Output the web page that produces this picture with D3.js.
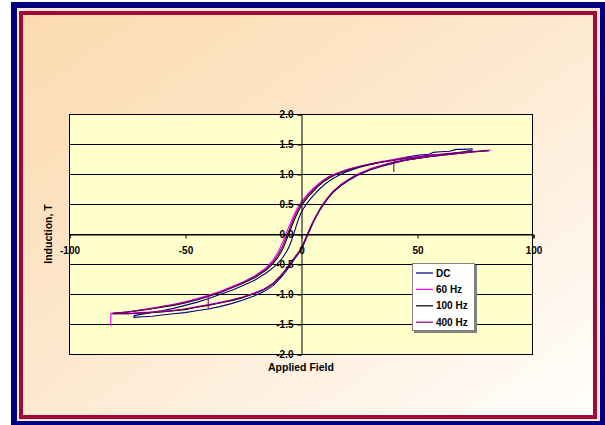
<!DOCTYPE html>
<html>
<head>
<meta charset="utf-8">
<script src="https://cdn.jsdelivr.net/npm/d3@7"></script>
<style>
  html, body { margin: 0; padding: 0; background: #ffffff; }
  svg { display: block; font-family: "Liberation Sans", Arial, sans-serif; }
</style>
</head>
<body>
<svg id="chart" width="605" height="425"></svg>
<script>
// ---------------- data (Applied Field, Induction T) ----------------
const seriesNames = ["DC", "60 Hz", "100 Hz", "400 Hz"];
const seriesColors = ["#000080", "#FF00FF", "#000000", "#800080"];
const xTickValues = [-100, -50, 0, 50, 100];
const xTickLabels = ["-100", "-50", "0", "50", "100"];
const yTickValues = [-2.0, -1.5, -1.0, -0.5, 0.0, 0.5, 1.0, 1.5, 2.0];
const yTickLabels = ["-2.0", "-1.5", "-1.0", "-0.5", "0.0", "0.5", "1.0", "1.5", "2.0"];
const xTitle = "Applied Field";
const yTitle = "Induction, T";

const dcLoop = [
  [74,1.42],[70,1.41],[67,1.41],[64,1.38],[60,1.37],[57,1.36],[55,1.33],[50,1.31],[45,1.28],[40,1.24],
  [35,1.20],[30,1.16],[25,1.11],[20,1.04],[17,0.99],[14,0.93],[12,0.88],[10,0.82],[8,0.75],[6,0.67],
  [4,0.58],[2,0.48],[1,0.42],[0,0.35],[-1,0.26],[-2,0.14],[-3,0.02],[-4,-0.10],[-5,-0.20],[-6,-0.28],
  [-8,-0.40],[-10,-0.49],[-12,-0.56],[-15,-0.65],[-20,-0.77],[-25,-0.86],[-30,-0.94],[-35,-1.01],
  [-40,-1.08],[-45,-1.14],[-50,-1.19],[-55,-1.24],[-60,-1.28],[-65,-1.31],[-72,-1.36],
  [-72,-1.39],[-68,-1.38],[-64,-1.37],[-60,-1.35],[-55,-1.33],[-50,-1.31],[-45,-1.28],[-40,-1.25],
  [-35,-1.21],[-30,-1.16],[-25,-1.10],[-20,-1.03],[-16,-0.96],[-12,-0.86],[-9,-0.74],[-7,-0.65],
  [-5,-0.54],[-3,-0.43],[-1,-0.32],[0,-0.26],[1,-0.19],[2,-0.10],[3,-0.01],[4,0.08],[5,0.17],[6,0.25],
  [8,0.39],[10,0.51],[12,0.61],[14,0.70],[17,0.80],[20,0.88],[24,0.97],[30,1.07],[35,1.13],[40,1.18],
  [45,1.23],[50,1.26],[55,1.29],[60,1.32],[65,1.34],[70,1.37],[74,1.40]
];

const hz60Loop = [
  [82,1.40],[75,1.38],[70,1.36],[65,1.35],[60,1.33],[55,1.31],[50,1.29],[45,1.27],[40,1.24],[35,1.21],
  [30,1.17],[25,1.13],[20,1.08],[15,1.01],[12,0.96],[10,0.91],[7,0.82],[5,0.75],[3,0.67],[1,0.58],
  [0,0.53],[-1,0.47],[-2,0.40],[-3,0.32],[-4,0.23],[-5,0.14],[-6,0.05],[-7,-0.05],[-8,-0.15],
  [-10,-0.31],[-12,-0.43],[-15,-0.56],[-20,-0.70],[-25,-0.80],[-30,-0.88],[-35,-0.96],[-40,-1.02],
  [-45,-1.08],[-50,-1.13],[-55,-1.17],[-60,-1.21],[-65,-1.24],[-70,-1.27],[-75,-1.30],[-82,-1.32],
  [-82,-1.53],[-82,-1.33],
  [-75,-1.32],[-70,-1.31],[-65,-1.30],[-60,-1.29],[-55,-1.27],[-50,-1.25],[-45,-1.21],[-40,-1.18],
  [-35,-1.14],[-30,-1.10],[-25,-1.05],[-20,-0.98],[-16,-0.92],[-12,-0.82],[-9,-0.70],[-7,-0.61],
  [-5,-0.51],[-3,-0.40],[-1,-0.30],[0,-0.24],[1,-0.16],[2,-0.07],[3,0.02],[4,0.11],[5,0.19],[6,0.27],
  [8,0.41],[10,0.53],[12,0.63],[14,0.72],[17,0.82],[20,0.90],[24,0.99],[30,1.09],[35,1.15],[40,1.20],
  [45,1.24],[50,1.27],[55,1.30],[60,1.32],[65,1.34],[70,1.36],[75,1.38],[82,1.40]
];

const hz100Loop = [
  [81,1.39],[75,1.37],[70,1.36],[65,1.34],[60,1.32],[55,1.30],[50,1.28],[45,1.26],[40,1.23],[35,1.20],
  [30,1.16],[25,1.12],[20,1.06],[15,0.99],[12,0.93],[10,0.88],[7,0.78],[5,0.70],[3,0.62],[1,0.52],
  [0,0.46],[-1,0.39],[-2,0.31],[-3,0.22],[-4,0.13],[-5,0.03],[-6,-0.07],[-7,-0.17],[-8,-0.26],
  [-10,-0.39],[-12,-0.49],[-15,-0.60],[-20,-0.73],[-25,-0.82],[-30,-0.90],[-35,-0.98],[-40,-1.04],
  [-45,-1.10],[-50,-1.15],[-55,-1.19],[-60,-1.22],[-65,-1.25],[-70,-1.28],[-75,-1.30],[-81,-1.32],
  [-81,-1.33],[-75,-1.33],[-70,-1.32],[-65,-1.31],[-60,-1.30],[-55,-1.28],[-50,-1.26],[-45,-1.22],
  [-40,-1.19],[-35,-1.15],[-30,-1.11],[-25,-1.06],[-20,-0.99],[-16,-0.93],[-12,-0.83],[-9,-0.71],
  [-7,-0.62],[-5,-0.52],[-3,-0.41],[-1,-0.31],[0,-0.25],[1,-0.17],[2,-0.08],[3,0.01],[4,0.10],
  [5,0.18],[6,0.26],[8,0.40],[10,0.52],[12,0.62],[14,0.71],[17,0.81],[20,0.89],[24,0.98],[30,1.08],
  [35,1.14],[40,1.19],[45,1.23],[50,1.26],[55,1.29],[60,1.31],[65,1.33],[70,1.35],[75,1.37],[81,1.39]
];

const hz400Loop = [
  [81,1.39],[75,1.37],[70,1.36],[65,1.34],[60,1.33],[55,1.31],[50,1.28],[45,1.26],[40,1.23],
  [40,1.04],[40,1.23],[35,1.20],[30,1.17],[25,1.12],[20,1.07],[15,1.00],[12,0.95],[10,0.90],[7,0.80],
  [5,0.73],[3,0.65],[1,0.55],[0,0.50],[-1,0.43],[-2,0.36],[-3,0.27],[-4,0.18],[-5,0.08],[-6,-0.01],
  [-7,-0.11],[-8,-0.21],[-10,-0.35],[-12,-0.46],[-15,-0.58],[-20,-0.71],[-25,-0.81],[-30,-0.89],
  [-35,-0.97],[-40,-1.03],[-40,-1.24],[-40,-1.04],[-45,-1.09],[-50,-1.14],[-55,-1.18],[-60,-1.21],
  [-65,-1.25],[-70,-1.27],[-75,-1.30],[-81,-1.32],
  [-81,-1.33],[-75,-1.33],[-70,-1.32],[-65,-1.31],[-60,-1.29],[-55,-1.28],[-50,-1.25],[-45,-1.22],
  [-40,-1.18],[-35,-1.15],[-30,-1.10],[-25,-1.05],[-20,-0.99],[-16,-0.92],[-12,-0.83],[-9,-0.71],
  [-7,-0.62],[-5,-0.52],[-3,-0.41],[-1,-0.31],[0,-0.25],[1,-0.17],[2,-0.08],[3,0.01],[4,0.10],
  [5,0.18],[6,0.26],[8,0.40],[10,0.52],[12,0.62],[14,0.71],[17,0.81],[20,0.89],[24,0.98],[30,1.08],
  [35,1.14],[40,1.19],[45,1.23],[50,1.26],[55,1.29],[60,1.31],[65,1.33],[70,1.35],[75,1.37],[81,1.39]
];

const seriesData = [dcLoop, hz60Loop, hz100Loop, hz400Loop];

// ---------------- drawing ----------------
const FONT = "'Liberation Sans', Arial, sans-serif";
const svg = d3.select("#chart");
const defs = svg.append("defs");

const grad = defs.append("linearGradient")
  .attr("id", "bgGrad").attr("x1", "0").attr("y1", "0").attr("x2", "1").attr("y2", "1");
grad.append("stop").attr("offset", "0").attr("stop-color", "#FCDAAE");
grad.append("stop").attr("offset", "0.45").attr("stop-color", "#FDE7CC");
grad.append("stop").attr("offset", "1").attr("stop-color", "#FFFEFC");

const pat = defs.append("pattern").attr("id", "stripes")
  .attr("patternUnits", "userSpaceOnUse").attr("width", 7).attr("height", 7)
  .attr("patternTransform", "rotate(-40)");
pat.append("line").attr("x1", 0).attr("y1", 0).attr("x2", 7).attr("y2", 0)
  .attr("stroke", "#ffffff").attr("stroke-opacity", 0.18).attr("stroke-width", 1);

// frame
svg.append("rect").attr("x", 11).attr("y", 2).attr("width", 594).attr("height", 423).attr("fill", "#000080");
svg.append("rect").attr("x", 17).attr("y", 8).attr("width", 583).attr("height", 413).attr("fill", "#F6E7D6");
svg.append("rect").attr("x", 19).attr("y", 11).attr("width", 578).attr("height", 408).attr("fill", "#A00A3A");
svg.append("rect").attr("x", 23).attr("y", 15).attr("width", 570).attr("height", 400).attr("fill", "url(#bgGrad)");
svg.append("rect").attr("x", 23).attr("y", 15).attr("width", 570).attr("height", 400).attr("fill", "url(#stripes)");

// plot area
const plot = { left: 69, top: 114, right: 533, bottom: 354 };
const x = d3.scaleLinear().domain([-100, 100]).range([plot.left, plot.right]);
const y = d3.scaleLinear().domain([-2, 2]).range([plot.bottom, plot.top]);

svg.append("rect")
  .attr("x", plot.left).attr("y", plot.top)
  .attr("width", plot.right - plot.left).attr("height", plot.bottom - plot.top)
  .attr("fill", "#FFFFCC");

defs.append("clipPath").attr("id", "plotClip").append("rect")
  .attr("x", plot.left).attr("y", plot.top)
  .attr("width", plot.right - plot.left).attr("height", plot.bottom - plot.top);

// horizontal gridlines
svg.append("g").selectAll("line").data(yTickValues).join("line")
  .attr("x1", plot.left).attr("x2", plot.right)
  .attr("y1", d => Math.round(y(d)) + 0.5).attr("y2", d => Math.round(y(d)) + 0.5)
  .attr("stroke", "#000").attr("stroke-width", 1);

// curves
const line = d3.line().x(d => x(d[0])).y(d => y(d[1]));
const curves = svg.append("g").attr("clip-path", "url(#plotClip)");
seriesData.forEach((data, i) => {
  curves.append("path").datum(data)
    .attr("d", line)
    .attr("fill", "none")
    .attr("stroke", seriesColors[i])
    .attr("stroke-width", 1.1)
    .attr("stroke-linejoin", "round");
});

// plot border
svg.append("rect")
  .attr("x", plot.left + 0.5).attr("y", plot.top + 0.5)
  .attr("width", plot.right - plot.left - 1).attr("height", plot.bottom - plot.top)
  .attr("fill", "none").attr("stroke", "#000").attr("stroke-width", 1);

// x axis at y=0
const xAxis = d3.axisBottom(x).tickValues(xTickValues).tickSize(4).tickPadding(8)
  .tickFormat((d, i) => xTickLabels[i]);
const gx = svg.append("g").attr("transform", `translate(0.5,${Math.round(y(0)) + 0.5})`).call(xAxis);
gx.select(".domain").attr("stroke", "#000");
gx.selectAll("text").attr("font-size", "10px").attr("font-weight", "bold").attr("fill", "#000")
  .attr("font-family", FONT);

// y axis at x=0
const yAxis = d3.axisLeft(y).tickValues(yTickValues).tickSize(4).tickPadding(4)
  .tickFormat((d, i) => yTickLabels[i]);
const gy = svg.append("g").attr("transform", `translate(${Math.round(x(0)) + 0.5},0.5)`).call(yAxis);
gy.select(".domain").attr("stroke", "#000");
gy.selectAll("text").attr("font-size", "10px").attr("font-weight", "bold").attr("fill", "#000")
  .attr("font-family", FONT);

// axis titles
svg.append("text")
  .attr("x", (plot.left + plot.right) / 2).attr("y", 371)
  .attr("text-anchor", "middle").attr("font-size", "10.5px").attr("font-weight", "bold")
  .text(xTitle);
svg.append("text")
  .attr("transform", `translate(52,${(plot.top + plot.bottom) / 2}) rotate(-90)`)
  .attr("text-anchor", "middle").attr("font-size", "10.5px").attr("font-weight", "bold")
  .text(yTitle);

// legend
const lg = svg.append("g").attr("transform", "translate(412,263)");
lg.append("rect").attr("x", 2).attr("y", 2).attr("width", 63).attr("height", 68).attr("fill", "#808080");
lg.append("rect").attr("x", 0.5).attr("y", 0.5).attr("width", 62).attr("height", 67)
  .attr("fill", "#FFFFFF").attr("stroke", "#808080").attr("stroke-width", 1);
seriesNames.forEach((name, i) => {
  const yy = 10 + i * 16.4;
  lg.append("line").attr("x1", 4).attr("x2", 21).attr("y1", yy).attr("y2", yy)
    .attr("stroke", seriesColors[i]).attr("stroke-width", 1.2);
  lg.append("text").attr("x", 24).attr("y", yy + 3.6)
    .attr("font-size", "10px").attr("font-weight", "bold").attr("fill", "#000")
    .text(name);
});
</script>
</body>
</html>
